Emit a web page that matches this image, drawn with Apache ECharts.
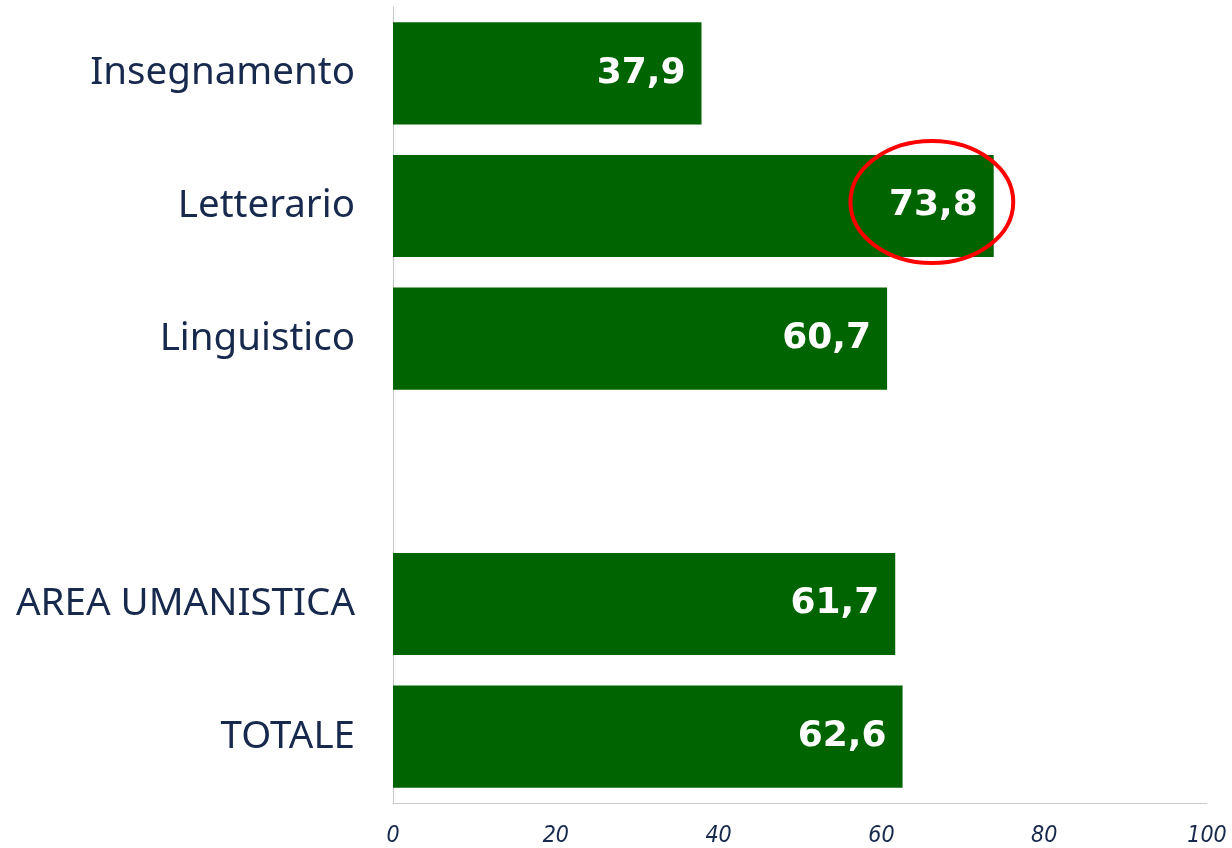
<!DOCTYPE html>
<html>
<head>
<meta charset="utf-8">
<script src="https://cdn.jsdelivr.net/npm/echarts@6/dist/echarts.min.js"></script>
<style>
  html, body { margin: 0; padding: 0; background: #fff; }
  #chart { width: 1232px; height: 848px; }
</style>
</head>
<body>
<div id="chart"></div>
<script>
const categories = ['Insegnamento', 'Letterario', 'Linguistico', '', 'AREA UMANISTICA', 'TOTALE'];
const values = [37.9, 73.8, 60.7, null, 61.7, 62.6];
const xTicks = [0, 20, 40, 60, 80, 100];
// highlighted label (red ring)
const highlightCategory = 'Letterario';
const highlightCenter = 66.2;

const navy = '#17294d';
const green = '#006400';

const chart = echarts.init(document.getElementById('chart'));

chart.setOption({
  animation: false,
  grid: { left: 393, right: 25, top: 7, bottom: 45 },
  xAxis: {
    type: 'value',
    min: xTicks[0],
    max: xTicks[xTicks.length - 1],
    interval: 20,
    axisLine: { show: true, lineStyle: { color: '#c8c8c8', width: 1 } },
    axisTick: { show: false },
    splitLine: { show: false },
    axisLabel: {
      margin: 22,
      fontSize: 23,
      fontStyle: 'italic',
      fontFamily: 'DejaVu Sans Condensed',
      color: navy
    }
  },
  yAxis: {
    type: 'category',
    inverse: true,
    data: categories,
    axisLine: { show: true, lineStyle: { color: '#c8c8c8', width: 1 } },
    axisTick: { show: false },
    axisLabel: {
      margin: 38,
      fontSize: 38.5,
      fontFamily: 'Noto Sans',
      color: navy
    }
  },
  series: [{
    type: 'bar',
    data: values,
    barCategoryGap: '23%',
    itemStyle: { color: green },
    label: {
      show: true,
      position: 'insideRight',
      distance: 16,
      fontSize: 36,
      fontWeight: 'bold',
      fontFamily: 'DejaVu Sans',
      color: '#fff',
      formatter: p => String(p.value).replace('.', ',')
    }
  }]
});

function drawRing() {
  const c = chart.convertToPixel({ xAxisIndex: 0, yAxisIndex: 0 }, [highlightCenter, highlightCategory]);
  const unit = chart.convertToPixel({ xAxisIndex: 0 }, 10) - chart.convertToPixel({ xAxisIndex: 0 }, 0);
  chart.setOption({
    graphic: [{
      type: 'ellipse',
      shape: { cx: c[0], cy: c[1] - 4, rx: unit * 1.0, ry: 61 },
      style: { fill: 'none', stroke: '#ff0000', lineWidth: 4 },
      z: 100
    }]
  });
}
drawRing();
</script>
</body>
</html>
